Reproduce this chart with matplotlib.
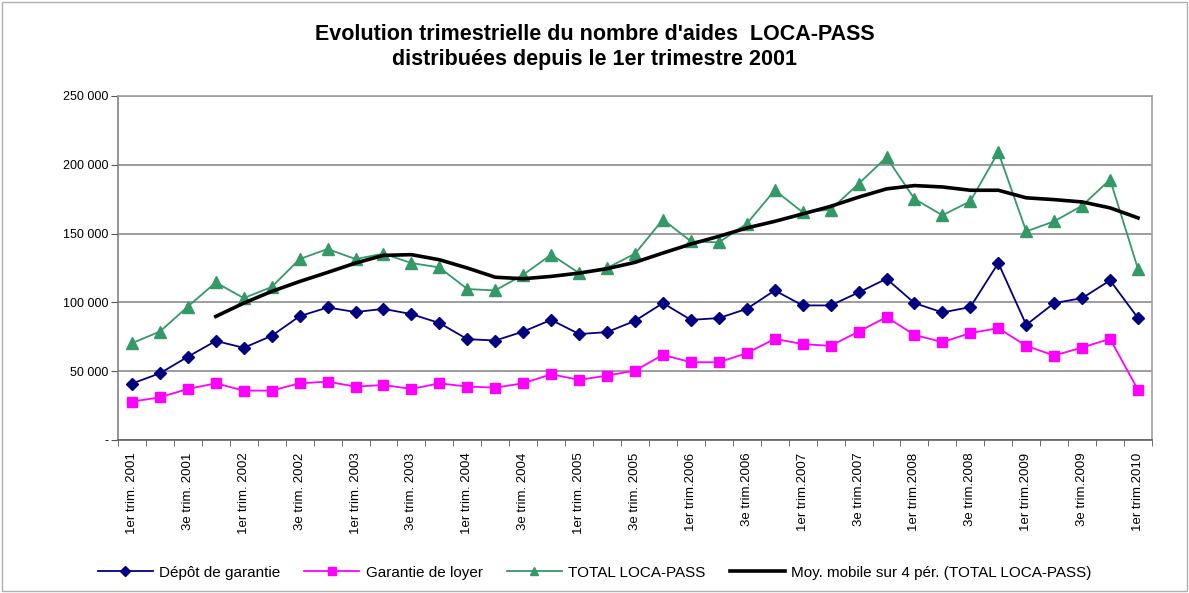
import numpy as np
import matplotlib
matplotlib.use("Agg")
import matplotlib.pyplot as plt
from matplotlib.patches import Rectangle

plt.rcParams["font.family"] = ["Liberation Sans", "DejaVu Sans"]

# quarterly data, Q1 2001 .. Q1 2010 (37 quarters)
depot = [41000, 48500, 60500, 72000, 67000, 75700, 90000, 96300, 93000, 95300,
         91500, 85000, 73300, 72300, 78800, 87300, 77000, 78400, 86600, 99500,
         87300, 88600, 95300, 108700, 97800, 97800, 107200, 117200, 99500, 92700,
         96600, 128600, 83700, 99500, 103100, 116000, 88600]
garantie = [27900, 31000, 37100, 41200, 35900, 35900, 41200, 42400, 38800, 40000,
            37100, 41200, 38800, 38100, 41200, 47800, 43700, 46800, 50400, 61900,
            56500, 56500, 63100, 73500, 69700, 68400, 78800, 89300, 76400, 71100,
            77700, 81300, 68400, 61400, 67200, 73500, 36400]
total = [70400, 78800, 97000, 114500, 103100, 111200, 131500, 138800, 131500, 135400,
         128600, 125400, 109700, 108700, 120100, 134700, 121300, 125000, 135400, 160200,
         144400, 143600, 157200, 181500, 165500, 167400, 186200, 205500, 175200, 163300,
         173500, 209200, 151600, 158900, 170300, 189300, 124300]
# 4-quarter moving average, starts at Q4 2001
moy_mobile = [89800, 99500, 108000, 115200, 121800, 128600, 134200, 134700, 131000, 125000,
              118300, 117200, 118900, 121300, 124500, 129100, 135900, 142400, 148000, 154100,
              158900, 164300, 169800, 176500, 182500, 184900, 183900, 181500, 181500, 176000,
              174700, 173000, 168700, 161400]

tick_labels = ["1er trim. 2001", "3e trim. 2001", "1er trim. 2002", "3e trim. 2002",
               "1er trim. 2003", "3e trim. 2003", "1er trim. 2004", "3e trim. 2004",
               "1er trim. 2005", "3e trim. 2005", "1er trim.2006", "3e trim.2006",
               "1er trim.2007", "3e trim.2007", "1er trim.2008", "3e trim.2008",
               "1er trim.2009", "3e trim.2009", "1er trim.2010"]

x = np.arange(len(total))
x_ma = x[3:]

fig = plt.figure(figsize=(11.89, 5.93), dpi=100)
ax = fig.add_axes([118 / 1189, 1 - 440 / 593, (1152 - 118) / 1189, (440 - 96) / 593])

ax.plot(x, depot, color="#000080", marker="D", markersize=6, lw=1.3,
        label="Dépôt de garantie", zorder=4)
ax.plot(x, garantie, color="#FF00FF", marker="s", markersize=7, lw=1.3,
        label="Garantie de loyer", zorder=4)
ax.plot(x, total, color="#339966", marker="^", markersize=8, lw=1.3,
        label="TOTAL LOCA-PASS", zorder=4)
ax.plot(x_ma, moy_mobile, color="black", lw=2.6,
        label="Moy. mobile sur 4 pér. (TOTAL LOCA-PASS)", zorder=5)

ax.set_xlim(-0.5, len(total) - 0.5)
ax.set_ylim(0, 250000)
ax.set_yticks(np.arange(0, 250001, 50000))
ax.set_yticklabels(["-", "50 000", "100 000", "150 000", "200 000", "250 000"], fontsize=9)
ax.yaxis.grid(True, color="#8c8c8c", lw=1.2)
ax.set_axisbelow(True)

ax.set_xticks(x[::2])
ax.set_xticklabels(tick_labels, rotation=90, fontsize=9.5)
ax.set_xticks(np.arange(-0.5, len(total), 1), minor=True)
ax.tick_params(axis="x", which="major", length=0, pad=9)
ax.tick_params(axis="x", which="minor", length=4, color="#555555")
ax.tick_params(axis="y", length=5, color="#555555", pad=2)

for side in ["top", "right"]:
    ax.spines[side].set_color("#a0a0a0")
    ax.spines[side].set_linewidth(1.2)
ax.spines["left"].set_color("#808080")
ax.spines["bottom"].set_color("#606060")
ax.spines["left"].set_linewidth(1.2)
ax.spines["bottom"].set_linewidth(1.2)

fig.text(0.5, 0.941, "Evolution trimestrielle du nombre d'aides  LOCA-PASS",
         ha="center", va="center", fontsize=15.5, fontweight="bold")
fig.text(0.5, 0.899, "distribuées depuis le 1er trimestre 2001",
         ha="center", va="center", fontsize=15.5, fontweight="bold")

fig.legend(loc="center", bbox_to_anchor=(0.5, 0.034), ncol=4, frameon=False,
           fontsize=11, handlelength=3.6, columnspacing=1.6, handletextpad=0.4,
           markerscale=0.8)

fig.patches.append(Rectangle((0.002, 0.004), 0.996, 0.992, transform=fig.transFigure,
                             fill=False, edgecolor="#b0b0b0", lw=1))

fig.savefig("out.png", dpi=100)
